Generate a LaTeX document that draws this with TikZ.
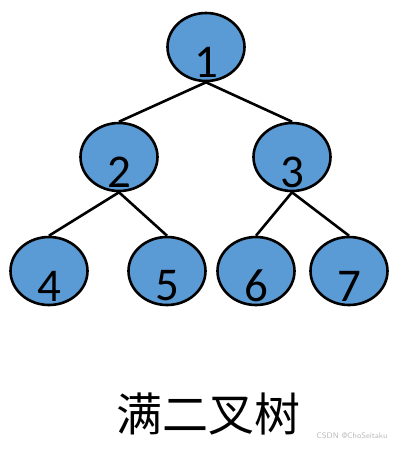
\documentclass[tikz,border=0pt]{standalone}
\usepackage{fontspec}
\usetikzlibrary{shapes.geometric}
\newfontfamily\digitfont{Carlito}
\newfontfamily\cjkfont{Noto Sans CJK SC}
\definecolor{nodeblue}{RGB}{91,155,213}
\tikzset{
  tnode/.style={ellipse, draw=black, line width=2.6pt, fill=nodeblue,
    minimum width=77pt, minimum height=68pt, inner sep=0pt},
  num/.style={font=\digitfont\fontsize{47pt}{47pt}\selectfont, yshift=-15pt},
  edge/.style={line width=2.6pt},
}
\begin{document}
\begin{tikzpicture}[x=1pt, y=-1pt]
    \useasboundingbox (0,0) rectangle (401,451);
    \node[tnode, label={[num]center:1}] (n1) at (206,47) {};
    \node[tnode, label={[num]center:2}] (n2) at (119,157) {};
    \node[tnode, label={[num]center:3}] (n3) at (292,157) {};
    \node[tnode, label={[num]center:4}] (n4) at (49,271) {};
    \node[tnode, label={[num]center:5}] (n5) at (167,271) {};
    \node[tnode, label={[num]center:6}] (n6) at (256,271) {};
    \node[tnode, label={[num]center:7}] (n7) at (349,271) {};
    \draw[edge] (n1.south) -- (n2.north);
    \draw[edge] (n1.south) -- (n3.north);
    \draw[edge] (n2.south) -- (n4.north);
    \draw[edge] (n2.south) -- (n5.north);
    \draw[edge] (n3.south) -- (n6.north);
    \draw[edge] (n3.south) -- (n7.north);
    \node[font=\cjkfont\fontsize{46pt}{46pt}\selectfont] (title) at (209,414) {满二叉树};
    \node[font=\sffamily\fontsize{8pt}{8pt}\selectfont, text=gray!55] (mark) at (352,436) {CSDN @ChoSeitaku};
\end{tikzpicture}
\end{document}
